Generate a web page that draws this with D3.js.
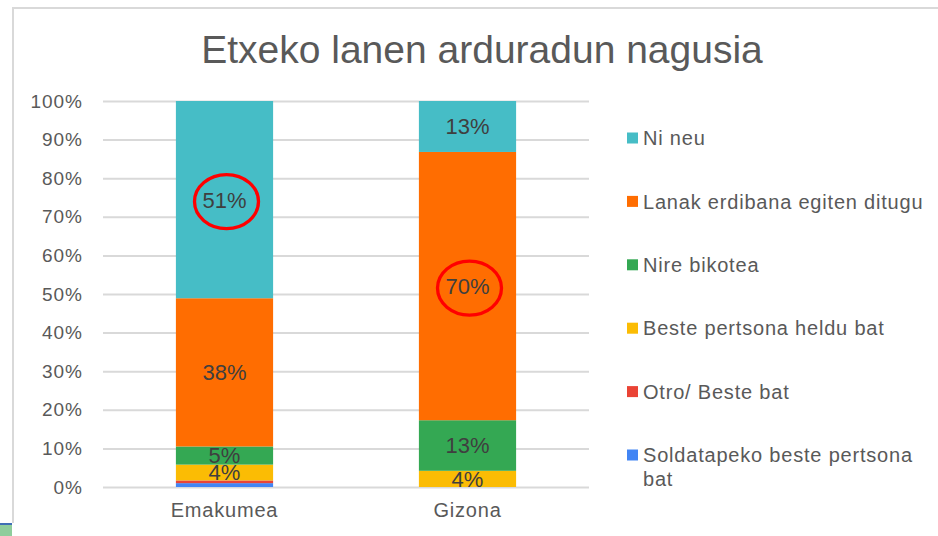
<!DOCTYPE html>
<html>
<head>
<meta charset="utf-8">
<script src="https://cdn.jsdelivr.net/npm/d3@7"></script>
<style>
  body { margin: 0; background: #fff; }
  svg { display: block; font-family: "Liberation Sans", Arial, sans-serif; }
</style>
</head>
<body>
<svg id="chart" width="938" height="536"></svg>
<script>
var title = "Etxeko lanen arduradun nagusia";
var categories = ["Emakumea", "Gizona"];

// stacking order, bottom first
var seriesNames = ["Soldatapeko beste pertsona bat", "Otro/ Beste bat", "Beste pertsona heldu bat",
  "Nire bikotea", "Lanak erdibana egiten ditugu", "Ni neu"];
var seriesColors = ["#4285F4", "#EA4335", "#FBBC04", "#34A853", "#FF6D01", "#46BDC6"];

var soldatapeko = [1.0, 0];
var otro = [0.7, 0];
var besteHeldu = [4.1, 4.2];
var bikotea = [4.7, 13.1];
var erdibana = [38.4, 69.5];
var niNeu = [51.1, 13.2];

var yTicks = [0, 10, 20, 30, 40, 50, 60, 70, 80, 90, 100];

// segments circled in red on the original slide: [series, category]
var circled = [["Ni neu", "Emakumea"], ["Lanak erdibana egiten ditugu", "Gizona"]];

var seriesValues = [soldatapeko, otro, besteHeldu, bikotea, erdibana, niNeu];

var svg = d3.select("#chart");
var margin = {left: 103, right: 349, top: 101, bottom: 49};
var width = 938 - margin.left - margin.right;
var height = 536 - margin.top - margin.bottom;

// slide frame bits
svg.append("line").attr("x1", 12).attr("x2", 938).attr("y1", 8).attr("y2", 8)
  .attr("stroke", "#d9d9d9").attr("stroke-width", 2);
svg.append("line").attr("x1", 13).attr("x2", 13).attr("y1", 7).attr("y2", 523)
  .attr("stroke", "#d9d9d9").attr("stroke-width", 2);
svg.append("rect").attr("x", 0).attr("y", 523).attr("width", 12).attr("height", 2).attr("fill", "#3f6fb5");
svg.append("rect").attr("x", 0).attr("y", 525).attr("width", 12).attr("height", 11).attr("fill", "#8fcd9c");

svg.append("text")
  .attr("x", 482).attr("y", 63)
  .attr("text-anchor", "middle")
  .attr("font-size", 39)
  .attr("fill", "#595959")
  .text(title);

var g = svg.append("g")
  .attr("transform", "translate(" + margin.left + "," + margin.top + ")");

var xScale = d3.scaleBand().domain(categories).range([0, width]).paddingInner(0.6).paddingOuter(0.3);
var yScale = d3.scaleLinear().domain([0, 100]).range([height, 0]);

var yAxis = g.append("g").call(d3.axisLeft(yScale).tickValues(yTicks)
  .tickFormat(function(d) { return d + "%"; })
  .tickSize(-width).tickPadding(20));
yAxis.select(".domain").remove();
yAxis.selectAll("line").attr("stroke", "#d9d9d9").attr("stroke-width", 2);
yAxis.selectAll("text").attr("font-size", 19).attr("fill", "#595959")
  .attr("letter-spacing", "1px")
  .attr("font-family", "Liberation Sans, Arial, sans-serif");

var xAxis = g.append("g").attr("transform", "translate(0," + height + ")")
  .call(d3.axisBottom(xScale).tickSize(0).tickPadding(16));
xAxis.select(".domain").remove();
xAxis.selectAll("text").attr("font-size", 20).attr("fill", "#595959")
  .attr("letter-spacing", "0.8px")
  .attr("font-family", "Liberation Sans, Arial, sans-serif");

var table = categories.map(function(c, i) {
  var row = {category: c};
  seriesNames.forEach(function(s, j) { row[s] = seriesValues[j][i]; });
  return row;
});
var stacked = d3.stack().keys(seriesNames)(table);

var layers = g.selectAll(".layer")
  .data(stacked)
  .enter()
  .append("g")
  .attr("fill", function(d, i) { return seriesColors[i]; });

layers.selectAll("rect")
  .data(function(d) { return d; })
  .enter()
  .append("rect")
  .attr("x", function(d) { return xScale(d.data.category); })
  .attr("y", function(d) { return yScale(d[1]); })
  .attr("width", xScale.bandwidth())
  .attr("height", function(d) { return yScale(d[0]) - yScale(d[1]); });

layers.each(function(layer) {
  d3.select(this).selectAll("text")
    .data(layer.filter(function(d) { return d[1] - d[0] >= 3; }))
    .enter()
    .append("text")
    .attr("x", function(d) { return xScale(d.data.category) + xScale.bandwidth() / 2; })
    .attr("y", function(d) { return yScale((d[0] + d[1]) / 2); })
    .attr("dy", "0.36em")
    .attr("text-anchor", "middle")
    .attr("font-size", 22)
    .attr("fill", "#3f3f3f")
    .text(function(d) { return Math.round(d[1] - d[0]) + "%"; });
});

circled.forEach(function(c) {
  var layer = stacked[seriesNames.indexOf(c[0])];
  var d = layer[categories.indexOf(c[1])];
  g.append("ellipse")
    .attr("cx", xScale(c[1]) + xScale.bandwidth() / 2 + 2)
    .attr("cy", yScale((d[0] + d[1]) / 2) + 2)
    .attr("rx", 32).attr("ry", 27)
    .attr("fill", "none")
    .attr("stroke", "#ff0000")
    .attr("stroke-width", 3.3);
});

// legend, top item = last series
var legendOrder = seriesNames.slice().reverse();
var legendColors = seriesColors.slice().reverse();
var legend = svg.append("g").attr("transform", "translate(627,138)");
var items = legend.selectAll("g")
  .data(legendOrder)
  .enter()
  .append("g")
  .attr("transform", function(d, i) { return "translate(0," + (i * 63.4) + ")"; });

items.append("rect")
  .attr("x", 0).attr("y", -5.5)
  .attr("width", 11).attr("height", 11)
  .attr("fill", function(d, i) { return legendColors[i]; });

items.append("text")
  .attr("x", 16)
  .attr("font-size", 20)
  .attr("letter-spacing", "0.8px")
  .attr("fill", "#595959")
  .each(function(d) {
    var lines = d == "Soldatapeko beste pertsona bat" ? ["Soldatapeko beste pertsona", "bat"] : [d];
    var t = d3.select(this);
    lines.forEach(function(l, k) {
      t.append("tspan").attr("x", 16).attr("y", k * 24).attr("dy", "0.36em").text(l);
    });
  });
</script>
</body>
</html>
